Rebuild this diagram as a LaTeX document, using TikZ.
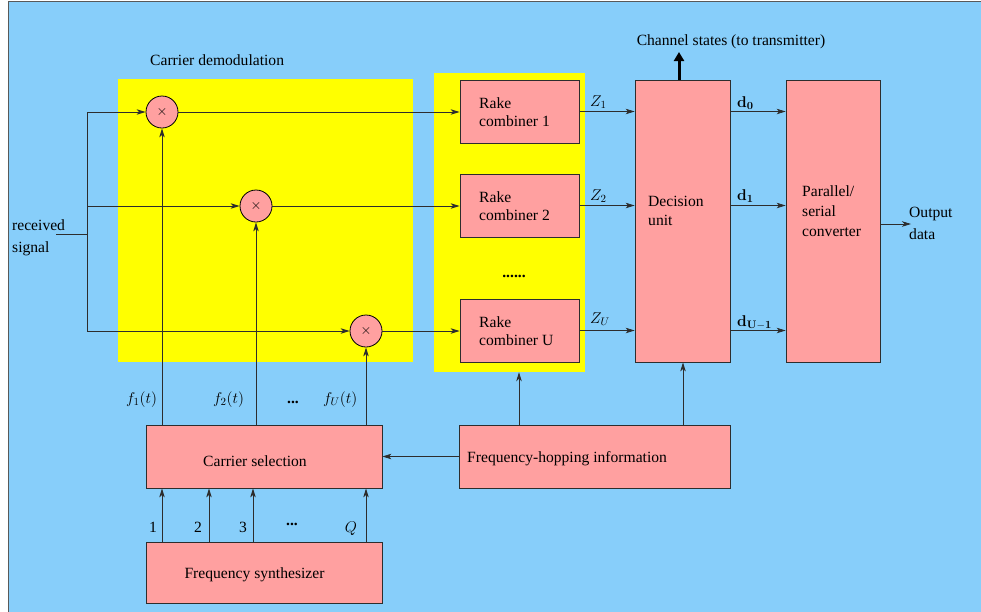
\RequirePackage{fix-cm}
\documentclass[tikz,border=0pt]{standalone}
\usepackage[no-math]{fontspec}
\setmainfont{Liberation Serif}
\newfontfamily\labelfont{Liberation Serif}
\usetikzlibrary{arrows.meta}
\definecolor{bgblue}{RGB}{135,206,250}
\definecolor{pinkbox}{RGB}{255,160,160}
\definecolor{ink}{RGB}{45,45,45}
\definecolor{hiyellow}{RGB}{255,255,0}

\begin{document}
\begin{tikzpicture}[x=1pt,y=-1pt,
  font=\labelfont\fontsize{15.6}{19}\selectfont,
  box/.style={draw=ink, line width=0.8pt, fill=pinkbox, inner sep=0pt},
  ybox/.style={fill=hiyellow, inner sep=0pt, draw=none},
  mult/.style={circle, draw=black, line width=0.8pt, fill=pinkbox, minimum size=32pt, inner sep=0pt},
  wire/.style={draw=ink, line width=0.8pt},
  arr/.style={wire, -{Stealth[length=9pt,width=5.5pt,inset=2.5pt]}},
  lbl/.style={inner sep=0pt, anchor=base},
  lblw/.style={inner sep=0pt, anchor=base west},
  txt/.style={inner sep=0pt, align=left, anchor=west}]

\useasboundingbox (0,0) rectangle (981,611);

% background panel
\draw[draw=gray!70!black, line width=1pt, fill=bgblue] (8.5,1.5) rectangle (995,625);

% highlighted groups
\node[ybox, minimum width=295pt, minimum height=283pt] (yL) at (265.5,220.5) {};
\node[ybox, minimum width=151pt, minimum height=299pt] (yR) at (509.5,222.5) {};

% blocks
\node[box, minimum width=119pt, minimum height=63pt] (rk1) at (519.5,111.5) {};
\node[box, minimum width=119pt, minimum height=63pt] (rk2) at (519.5,205.5) {};
\node[box, minimum width=119pt, minimum height=63pt] (rkU) at (519.5,330.5) {};
\node[box, minimum width=95pt, minimum height=282pt] (dec) at (682.5,221) {};
\node[box, minimum width=94pt, minimum height=282pt] (ps) at (833,221) {};
\node[box, minimum width=236pt, minimum height=63pt] (cs) at (264,456.5) {};
\node[box, minimum width=236pt, minimum height=61pt] (fs) at (264,572.5) {};
\node[box, minimum width=271pt, minimum height=63pt] (fh) at (594.5,456.5) {};

% mixers
\node[mult] (m1) at (162,112) {\fontsize{14}{14}\selectfont$\times$};
\node[mult] (m2) at (256,206) {\fontsize{14}{14}\selectfont$\times$};
\node[mult] (m3) at (366,331) {\fontsize{14}{14}\selectfont$\times$};

% block texts
\node[txt, font=\labelfont\fontsize{15.6}{18}\selectfont] at (479,112.5) {Rake\\combiner 1};
\node[txt, font=\labelfont\fontsize{15.6}{18}\selectfont] at (479,206.5) {Rake\\combiner 2};
\node[txt, font=\labelfont\fontsize{15.6}{18}\selectfont] at (479,331.5) {Rake\\combiner U};
\node[txt] at (648,210.5) {Decision\\unit};
\node[txt, font=\labelfont\fontsize{15.6}{20}\selectfont] at (802,210.7) {Parallel/\\serial\\converter};
\node[lbl] at (255,466) {Carrier selection};
\node[lbl] at (254.5,578) {Frequency synthesizer};
\node[lblw] at (467,462) {Frequency-hopping information};

% input distribution
\coordinate (rin) at (56,234);
\coordinate (jin) at (87,234);
\coordinate (j1) at (87,112);
\coordinate (j2) at (87,206);
\coordinate (j3) at (87,331);
\draw[wire] (rin) -- (jin);
\draw[wire] (j1) -- (j3);
\draw[arr] (j1) -- (m1);
\draw[arr] (j2) -- (m2);
\draw[arr] (j3) -- (m3);

% mixers to rake combiners
\draw[arr] (m1) -- (m1 -| rk1.west);
\draw[arr] (m2) -- (m2 -| rk2.west);
\draw[arr] (m3) -- (m3 -| rkU.west);

% rake combiners to decision unit
\draw[arr] (rk1.east) -- (rk1.east -| dec.west);
\draw[arr] (rk2.east) -- (rk2.east -| dec.west);
\draw[arr] (rkU.east) -- (rkU.east -| dec.west);

% decision outputs
\draw[arr] (rk1.east -| dec.east) -- (rk1.east -| ps.west);
\draw[arr] (rk2.east -| dec.east) -- (rk2.east -| ps.west);
\draw[arr] (rkU.east -| dec.east) -- (rkU.east -| ps.west);

% serial output
\coordinate (outp) at (911,224);
\draw[arr] (ps.east |- outp) -- (outp);

% channel state feedback
\coordinate (chx) at (679,0);
\coordinate (chtip) at (679,52);
\draw[draw=black, line width=3pt, -{Triangle[length=9pt,width=10pt]}] (dec.north -| chx) -- (chtip);

% carrier lines to mixers
\draw[arr] (cs.north -| m1) -- (m1.south);
\draw[arr] (cs.north -| m2) -- (m2.south);
\draw[arr] (cs.north -| m3) -- (m3.south);

% synthesizer outputs
\coordinate (q1) at (162,0);
\coordinate (q2) at (209,0);
\coordinate (q3) at (253,0);
\coordinate (qQ) at (366,0);
\draw[arr] (fs.north -| q1) -- (cs.south -| q1);
\draw[arr] (fs.north -| q2) -- (cs.south -| q2);
\draw[arr] (fs.north -| q3) -- (cs.south -| q3);
\draw[arr] (fs.north -| qQ) -- (cs.south -| qQ);

% hopping information
\coordinate (hx1) at (519,0);
\coordinate (hx2) at (683,0);
\draw[arr] (fh.west) -- (fh.west -| cs.east);
\draw[arr] (fh.north -| hx1) -- (yR.south -| hx1);
\draw[arr] (fh.north -| hx2) -- (dec.south -| hx2);

% labels
\node[lblw] at (150,65) {Carrier demodulation};
\node[lbl] at (731,45) {Channel states (to transmitter)};
\node[lblw] at (12,230) {received};
\node[lblw] at (12,252) {signal};
\node[txt, font=\labelfont\fontsize{15.6}{22}\selectfont] at (909,223) {Output\\data};
\node[lbl] at (514,277) {\textbf{......}};

\node[lblw] at (590,106) {$Z_1$};
\node[lblw] at (590,200) {$Z_2$};
\node[lblw] at (590,323) {$Z_U$};
\node[lblw] at (737,107) {$\mathbf{d_0}$};
\node[lblw] at (737,200) {$\mathbf{d_1}$};
\node[lblw] at (737,326) {$\mathbf{d_{U-1}}$};

\node[lblw] at (126,403) {$f_1(t)$};
\node[lblw] at (213,403) {$f_2(t)$};
\node[lbl] at (293,403) {\textbf{...}};
\node[lblw] at (323,403) {$f_U(t)$};

\node[lbl] at (153,532) {1};
\node[lbl] at (198,532) {2};
\node[lbl] at (243,532) {3};
\node[lbl] at (292,525) {\textbf{...}};
\node[lbl] at (351,532) {$Q$};
\end{tikzpicture}
\end{document}
